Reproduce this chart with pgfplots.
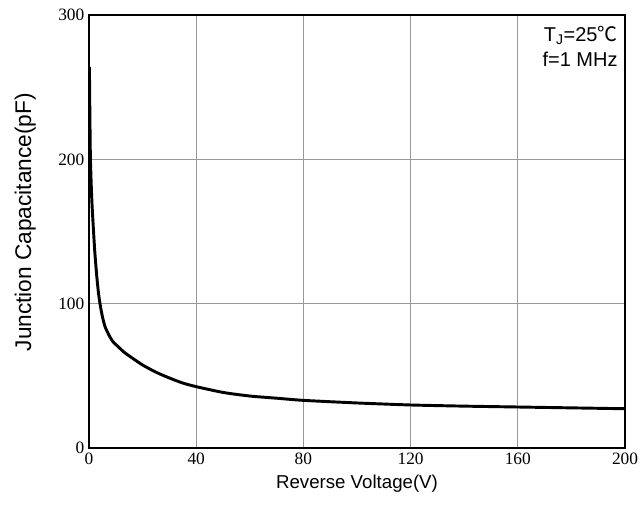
\documentclass[border=0pt]{standalone}
\usepackage{pgfplots}
\pgfplotsset{compat=1.18}
\usepackage{fontspec}
\setmainfont{Liberation Sans}
\newfontfamily\serifnum{Liberation Serif}
\newfontfamily\cjk{Noto Sans CJK SC}
\usetikzlibrary{calc}
\begin{document}
\begin{tikzpicture}
\begin{axis}[
  scale only axis,
  width=402pt, height=324.75pt,
  xmin=0, xmax=200, ymin=0, ymax=300,
  xtick={0,40,...,200}, ytick={0,100,200,300},
  grid=major,
  major grid style={gray!80, line width=0.6pt},
  axis line style={black, line width=1.2pt},
  tick style={draw=none},
  ticklabel style={font=\serifnum\fontsize{13}{14}\selectfont},
  /pgf/number format/assume math mode=true,
  xlabel={Reverse Voltage(V)},
  ylabel={Junction Capacitance(pF)},
  xlabel style={font=\fontsize{14}{16}\selectfont, yshift=-1pt},
  ylabel style={font=\fontsize{17}{19}\selectfont, yshift=10pt, xshift=7pt},
]
\addplot[black, line width=2.2pt, smooth, tension=0.4] coordinates {
  (0.15,264) (0.5,204) (1.0,174) (1.6,153) (2.2,135) (2.9,119)
  (3.5,108) (4.1,100) (5,91) (6,84) (7.5,78) (9,73.5) (11,70) (13,66.5)
  (16,62.5) (20,57.5) (25,52.5) (30,48.5) (35,45) (40,42.5) (50,38.5)
  (60,36) (70,34.5) (80,33) (100,31.2) (120,29.8) (140,29) (160,28.4)
  (180,27.8) (200,27.2)
};
\coordinate (bl) at (rel axis cs:0,0);
\coordinate (tr) at (rel axis cs:1,1);
\node[anchor=north east, align=right, font=\fontsize{15}{19}\selectfont]
  at (rel axis cs:0.995,0.985) {T\textsubscript{J}=25{\cjk ℃}\\f=1 MHz};
\end{axis}
\pgfresetboundingbox
\path ($(bl)+(-66.75pt,-47.25pt)$) rectangle ($(tr)+(12pt,11.25pt)$);
\end{tikzpicture}
\end{document}
